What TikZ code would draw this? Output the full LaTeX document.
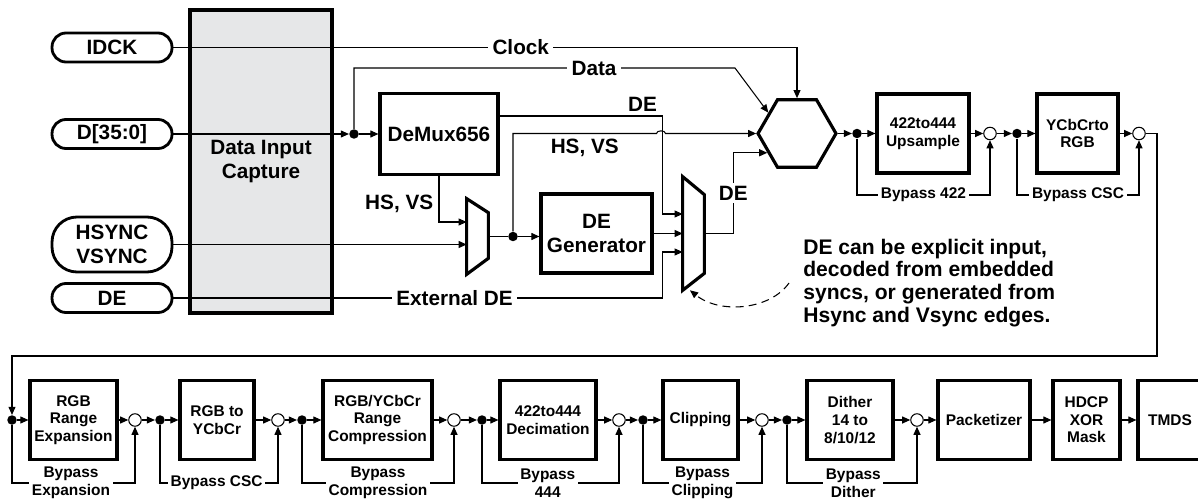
\documentclass[tikz,border=0pt]{standalone}
\usepackage{fontspec}
\setmainfont{Liberation Sans}
\usetikzlibrary{arrows.meta,shapes.geometric}

\newcommand{\lbfont}{\fontsize{11.8}{13.6}\selectfont\bfseries}
\newcommand{\sbfont}{\fontsize{8.8}{10}\selectfont\bfseries}
\newcommand{\notefont}{\fontsize{12}{13}\selectfont\bfseries}
\definecolor{capgray}{HTML}{E6E7E8}

\tikzset{
	pill/.style={draw, line width=1.6pt, rounded corners=0.28cm, minimum width=2.4cm, minimum height=0.58cm, font=\lbfont, inner sep=0pt},
	blk/.style={draw, line width=1.8pt, font=\lbfont, align=center, minimum height=1.58cm, inner sep=1pt, fill=white},
	sblk/.style={blk, font=\sbfont},
	dot/.style={circle, fill, inner sep=0pt, minimum size=0.19cm},
	odot/.style={circle, draw, fill=white, inner sep=0pt, minimum size=0.25cm, line width=0.6pt},
	arr/.style={-{Triangle[length=4.6pt,width=4pt]}, line width=0.6pt},
	wire/.style={line width=0.6pt},
	lbl/.style={font=\lbfont, fill=white, inner sep=2.5pt},
	blbl/.style={font=\sbfont, fill=white, inner sep=1.5pt, align=center},
	mux/.style={minimum width=0.42cm, inner sep=0pt},
	muxline/.style={line width=1.8pt, line join=miter},
}

\begin{document}
\begin{tikzpicture}[x=0.02cm, y=-0.02cm, line cap=butt]
	\useasboundingbox (0,0) rectangle (1198,500);
	
	% Input pins and capture block
	\node[blk, fill=capgray, minimum width=2.84cm, minimum height=6.06cm] (cap) at (261,161.5) {Data Input\\Capture};
	\node[pill] (idck) at (112,47.5) {IDCK};
	\node[pill] (din) at (112,134) {D[35:0]};
	\node[pill, minimum height=1.1cm, rounded corners=0.5cm, align=center] (hsync) at (112,244.5) {HSYNC\\VSYNC};
	\node[pill] (dein) at (112,298) {DE};
	
	% Front end: demux, DE generator, selectors
	\node[blk, minimum width=2.36cm, minimum height=1.62cm] (demux) at (439,134) {DeMux656};
	\node[blk, minimum width=2.22cm] (degen) at (596.5,233.5) {DE\\Generator};
	\node[mux, minimum height=1.5cm] (mux1) at (477.5,236.5) {};
	\node[mux, minimum height=2.26cm] (mux2) at (693.5,233.5) {};
	\draw[muxline] (mux1.north west) -- ([yshift=-0.28cm]mux1.north east) -- ([yshift=0.32cm]mux1.south east) -- (mux1.south west) -- cycle;
	\draw[muxline] (mux2.north west) -- ([yshift=-0.36cm]mux2.north east) -- ([yshift=0.34cm]mux2.south east) -- (mux2.south west) -- cycle;
	\coordinate (m1a) at ([yshift=0.29cm]mux1.west);
	\coordinate (m2a) at ([yshift=0.39cm]mux2.west);
	\coordinate (m2c) at ([yshift=-0.37cm]mux2.west);
	\node[dot] (ddot) at (354,134) {};
	\node[dot] (hsdot) at (513,236.5) {};
	\node[draw, regular polygon, regular polygon sides=6, minimum size=1.56cm, inner sep=0pt, line width=1.8pt] (hex) at (797,133.5) {};
	\coordinate (hop) at (661,133.5);
	
	% Front end wiring
	\draw[arr] (idck.east) -- node[lbl, pos=0.557] {Clock} (idck.east -| hex.north) -- (hex.north);
	\draw[arr] (din.east) -- (ddot);
	\draw[arr] (ddot) -- (ddot -| demux.west);
	\draw[arr] (ddot) -- ++(0,-66) -- node[lbl, pos=0.63] {Data} ++(381,0) -- (hex.144);
	\draw[arr] ([yshift=0.36cm]demux.east) -- node[font=\lbfont, anchor=south, pos=0.877, inner sep=2pt] {DE} ++(163,0) |- (m2a);
	\draw[arr] (demux.south) |- node[font=\lbfont, left, pos=0.3, inner sep=3pt] {HS, VS} (m1a);
	\draw[arr] (hsync.east) -- (hsync.east -| mux1.west);
	\draw[wire] (mux1.east) -- (hsdot);
	\draw[arr] (hsdot) -- (hsdot -| degen.west);
	\draw[arr] (hsdot) |- node[font=\lbfont, below, pos=0.75, inner sep=3pt] {HS, VS} ([xshift=-0.09cm]hop)
		to[out=90, in=90] ([xshift=0.09cm]hop) -- (hex.west);
	\draw[arr] (degen.east) -- (mux2.west);
	\draw[arr] (dein.east) -- node[lbl, pos=0.575] {External DE} ++(489,0) |- (m2c);
	\draw[arr] (mux2.east) -- ++(29,0) |- node[lbl, pos=0.25, inner sep=1.5pt] {DE} (hex.213);
	
	% Note on DE source
	\node[font=\notefont, align=left, anchor=west, inner sep=0pt] (note) at (803,283) {DE can be explicit input,\\decoded from embedded\\syncs, or generated from\\Hsync and Vsync edges.};
	\draw[arr, dash pattern=on 4.5pt off 3pt] ([xshift=-0.28cm]note.west) .. controls +(-0.38cm,-0.54cm) and +(0.6cm,-0.48cm) .. ([xshift=-0.07cm]mux2.south);
	
	% Upsample and color space stage
	\node[dot] (u1) at (857,133.5) {};
	\node[sblk, minimum width=1.84cm] (ups) at (923,133.5) {422to444\\Upsample};
	\node[odot] (u2) at (990,133.5) {};
	\node[dot] (c1) at (1017,133.5) {};
	\node[sblk, minimum width=1.62cm] (ycc) at (1077.5,133.5) {YCbCrto\\RGB};
	\node[odot] (c2) at (1139,133.5) {};
	
	\draw[arr] (hex.east) -- (u1);
	\draw[arr] (u1) -- (ups);
	\draw[arr] (ups) -- (u2);
	\draw[arr] (u2) -- (c1);
	\draw[arr] (c1) -- (ycc);
	\draw[arr] (ycc) -- (c2);
	\draw[arr] (u1) -- ++(0,61.5) -| node[blbl, pos=0.25] {Bypass 422} (u2);
	\draw[arr] (c1) -- ++(0,61.5) -| node[blbl, pos=0.25] {Bypass CSC} (c2);
	
	% Bottom row blocks
	\node[dot] (r1) at (12,420) {};
	\node[sblk, minimum width=1.74cm] (rex) at (73.5,420) {RGB\\Range\\Expansion};
	\node[odot] (o1) at (135,420) {};
	\node[dot] (d2) at (160,420) {};
	\node[sblk, minimum width=1.48cm] (r2y) at (217,420) {RGB to\\YCbCr};
	\node[odot] (o2) at (278,420) {};
	\node[dot] (d3) at (302,420) {};
	\node[sblk, minimum width=2.18cm] (rcmp) at (377.5,420) {RGB/YCbCr\\Range\\Compression};
	\node[odot] (o3) at (454,420) {};
	\node[dot] (d4) at (482,420) {};
	\node[sblk, minimum width=1.92cm] (dec) at (548,420) {422to444\\Decimation};
	\node[odot] (o4) at (619,420) {};
	\node[dot] (d5) at (643,420) {};
	\node[sblk, minimum width=1.5cm] (clip) at (700.5,420) {Clipping};
	\node[odot] (o5) at (762,420) {};
	\node[dot] (d6) at (787,420) {};
	\node[sblk, minimum width=1.72cm] (dith) at (850,420) {Dither\\14 to\\8/10/12};
	\node[odot] (o6) at (917,420) {};
	\node[sblk, minimum width=1.84cm] (pkt) at (984,420) {Packetizer};
	\node[sblk, minimum width=1.34cm] (hdcp) at (1086.5,420) {HDCP\\XOR\\Mask};
	\node[sblk, minimum width=1.28cm] (tmds) at (1170,420) {TMDS};
	
	% Wrap from top row down to bottom row
	\draw[arr] (c2) -- ++(18,0) -- ++(0,222.5) -| (r1);
	
	% Bottom row data path
	\draw[arr] (r1) -- (rex);
	\draw[arr] (rex) -- (o1);
	\draw[arr] (o1) -- (d2);
	\draw[arr] (d2) -- (r2y);
	\draw[arr] (r2y) -- (o2);
	\draw[arr] (o2) -- (d3);
	\draw[arr] (d3) -- (rcmp);
	\draw[arr] (rcmp) -- (o3);
	\draw[arr] (o3) -- (d4);
	\draw[arr] (d4) -- (dec);
	\draw[arr] (dec) -- (o4);
	\draw[arr] (o4) -- (d5);
	\draw[arr] (d5) -- (clip);
	\draw[arr] (clip) -- (o5);
	\draw[arr] (o5) -- (d6);
	\draw[arr] (d6) -- (dith);
	\draw[arr] (dith) -- (o6);
	\draw[arr] (o6) -- (pkt);
	\draw[arr] (pkt) -- (hdcp);
	\draw[arr] (hdcp) -- (tmds);
	
	% Bypass paths
	\draw[arr] (r1) -- ++(0,63) -| node[blbl, pos=0.24] {Bypass\\Expansion} (o1);
	\draw[arr] (d2) -- ++(0,63) -| node[blbl, pos=0.24] {Bypass CSC} (o2);
	\draw[arr] (d3) -- ++(0,63) -| node[blbl, pos=0.25] {Bypass\\Compression} (o3);
	\draw[arr] (d4) -- ++(0,63) -| node[blbl, pos=0.24] {Bypass\\444} (o4);
	\draw[arr] (d5) -- ++(0,63) -| node[blbl, pos=0.25] {Bypass\\Clipping} (o5);
	\draw[arr] (d6) -- ++(0,63) -| node[blbl, pos=0.255] {Bypass\\Dither} (o6);
\end{tikzpicture}
\end{document}
